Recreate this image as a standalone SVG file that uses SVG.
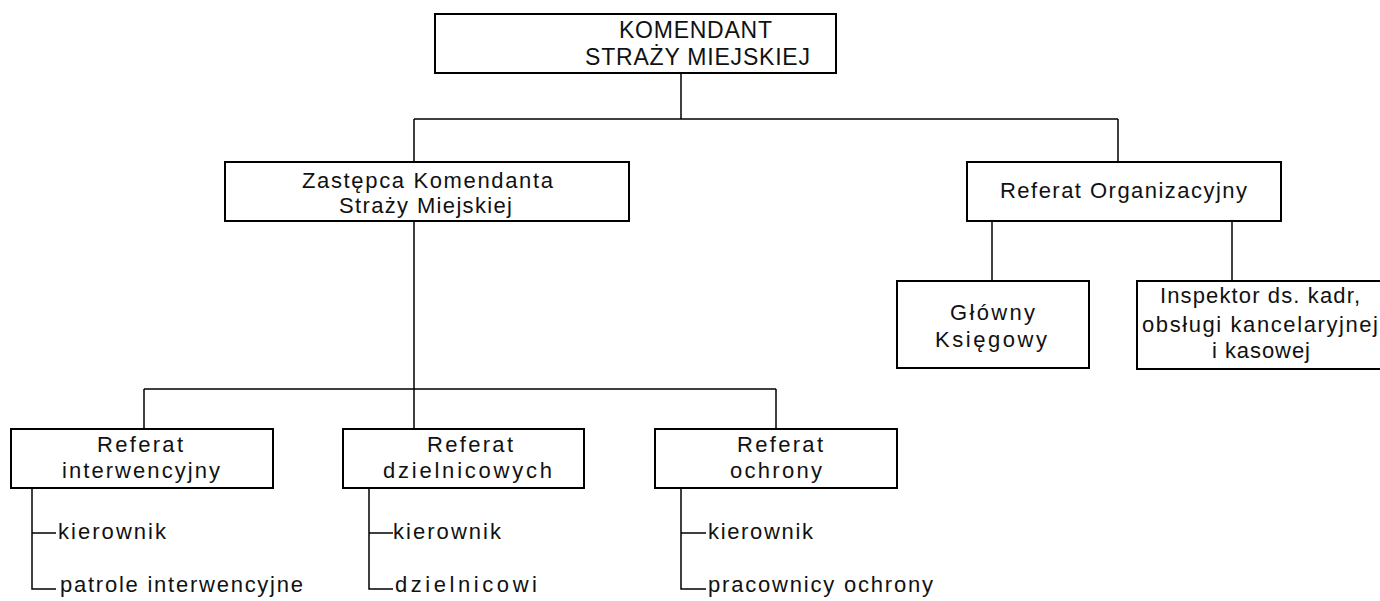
<svg xmlns="http://www.w3.org/2000/svg" width="1380" height="601" viewBox="0 0 1380 601">
<style>
.box{fill:#fff;stroke:#000;stroke-width:2}
.ln{fill:none;stroke:#000;stroke-width:1.5}
text{font-family:"Liberation Sans",Arial,Helvetica,sans-serif;font-size:22px;fill:#111}
.big{font-size:23px}
</style>
<rect width="1380" height="601" fill="#fff"/>
<g id="connectors">
<path class="ln" d="M681 73V119M414 119H1118M414 119V162M1118 119V162"/>
<path class="ln" d="M414 221V429M144 389H776M144 389V429M776 389V429"/>
<path class="ln" d="M992 221V281M1232 221V281"/>
<path class="ln" d="M32 488V589H56M32 533H56"/>
<path class="ln" d="M369 488V589H393M369 533H393"/>
<path class="ln" d="M681 488V589H706M681 533H706"/>
</g>
<g id="komendant">
<rect class="box" x="435" y="14" width="401" height="59"/>
<text class="big" x="619" y="38" textLength="153" lengthAdjust="spacing">KOMENDANT</text>
<text class="big" x="585" y="65" textLength="225" lengthAdjust="spacing">STRAŻY MIEJSKIEJ</text>
</g>
<g id="zastepca">
<rect class="box" x="225" y="162" width="404" height="59"/>
<text x="302" y="188" textLength="251" lengthAdjust="spacing">Zastępca Komendanta</text>
<text x="339" y="213" textLength="173" lengthAdjust="spacing">Straży Miejskiej</text>
</g>
<g id="organizacyjny">
<rect class="box" x="967" y="162" width="314" height="59"/>
<text x="1000" y="198" textLength="247" lengthAdjust="spacing">Referat Organizacyjny</text>
</g>
<g id="ksiegowy">
<rect class="box" x="897" y="281" width="192" height="87"/>
<text x="950" y="320" textLength="85" lengthAdjust="spacing">Główny</text>
<text x="935" y="347" textLength="112" lengthAdjust="spacing">Księgowy</text>
</g>
<g id="inspektor">
<rect class="box" x="1137" y="281" width="246" height="88"/>
<text x="1160" y="303" textLength="200" lengthAdjust="spacing">Inspektor ds. kadr,</text>
<text x="1142" y="332" textLength="236" lengthAdjust="spacing">obsługi kancelaryjnej</text>
<text x="1212" y="358" textLength="98" lengthAdjust="spacing">i kasowej</text>
</g>
<g id="interwencyjny">
<rect class="box" x="11" y="429" width="262" height="59"/>
<text x="97" y="452" textLength="86" lengthAdjust="spacing">Referat</text>
<text x="62" y="478" textLength="158" lengthAdjust="spacing">interwencyjny</text>
<text x="58" y="539" textLength="108" lengthAdjust="spacing">kierownik</text>
<text x="60" y="592" textLength="243" lengthAdjust="spacing">patrole interwencyjne</text>
</g>
<g id="dzielnicowych">
<rect class="box" x="343" y="429" width="241" height="59"/>
<text x="427" y="452" textLength="86" lengthAdjust="spacing">Referat</text>
<text x="383" y="478" textLength="169" lengthAdjust="spacing">dzielnicowych</text>
<text x="393" y="539" textLength="108" lengthAdjust="spacing">kierownik</text>
<text x="395" y="592" textLength="142" lengthAdjust="spacing">dzielnicowi</text>
</g>
<g id="ochrony">
<rect class="box" x="655" y="429" width="242" height="59"/>
<text x="737" y="452" textLength="86" lengthAdjust="spacing">Referat</text>
<text x="730" y="478" textLength="92" lengthAdjust="spacing">ochrony</text>
<text x="708" y="539" textLength="105" lengthAdjust="spacing">kierownik</text>
<text x="708" y="592" textLength="225" lengthAdjust="spacing">pracownicy ochrony</text>
</g>
</svg>
